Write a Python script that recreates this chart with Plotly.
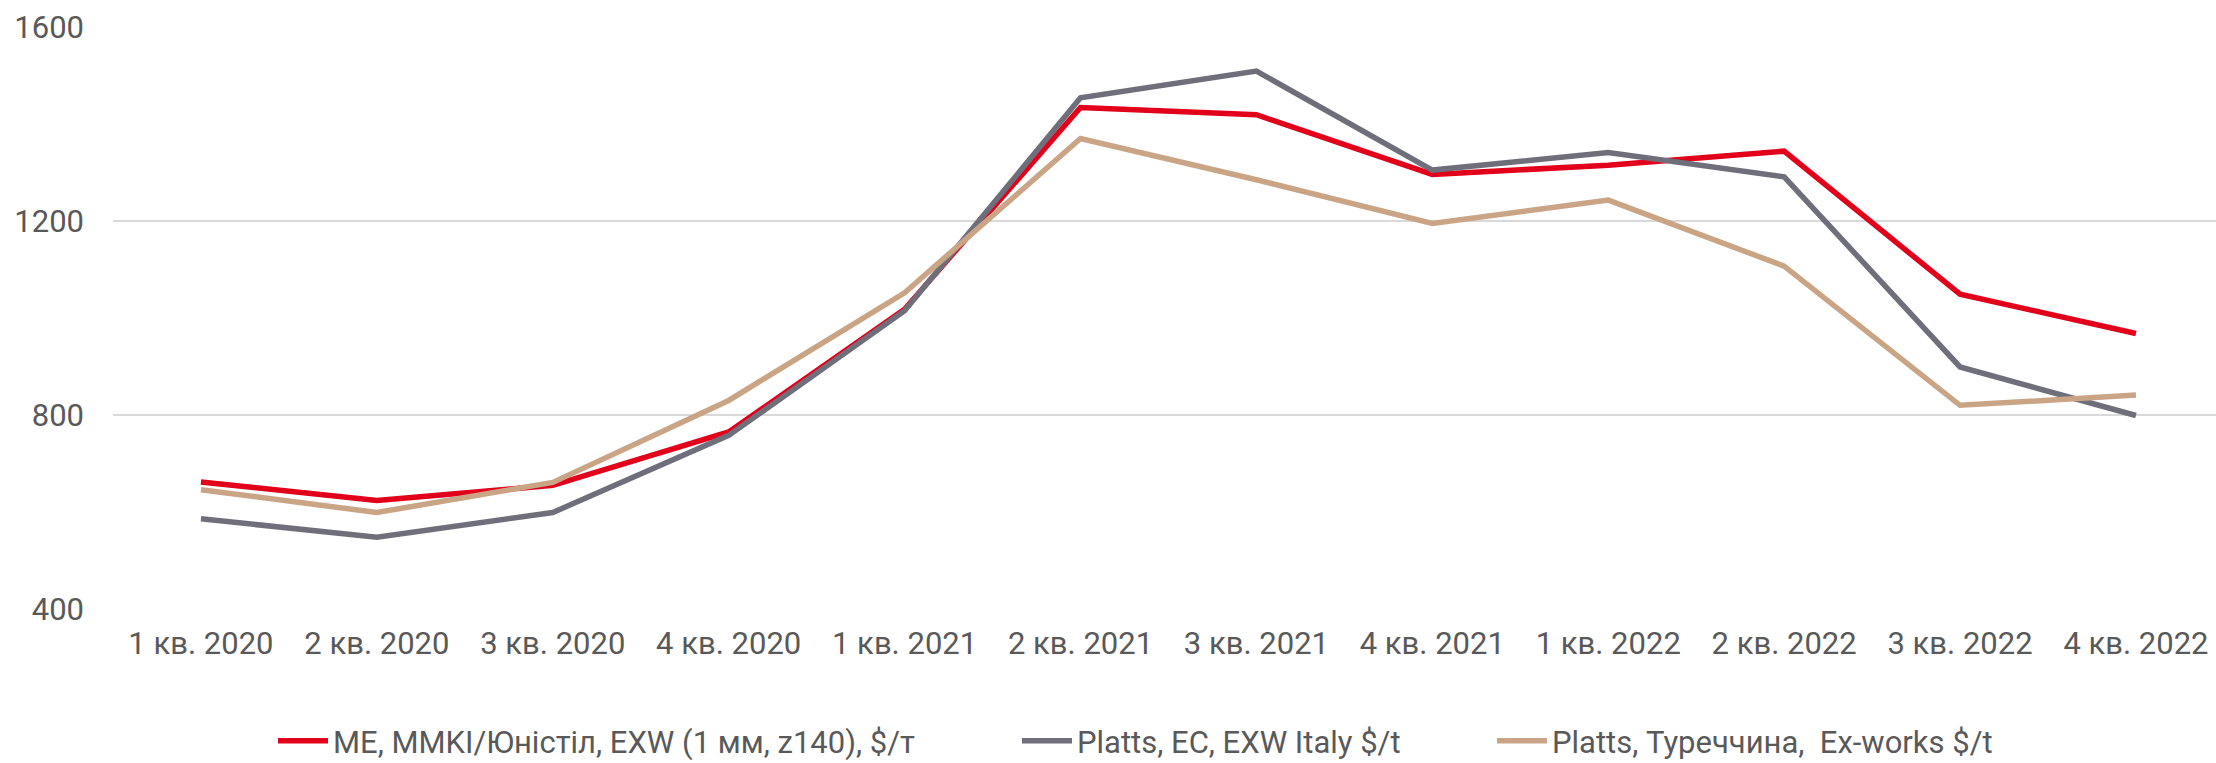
import plotly.graph_objects as go

categories = ["1 кв. 2020", "2 кв. 2020", "3 кв. 2020", "4 кв. 2020",
              "1 кв. 2021", "2 кв. 2021", "3 кв. 2021", "4 кв. 2021",
              "1 кв. 2022", "2 кв. 2022", "3 кв. 2022", "4 кв. 2022"]
me_mmki = [662, 624, 655, 765, 1018, 1434, 1419, 1296, 1315, 1344, 1049, 968]
platts_eu = [586, 548, 599, 758, 1015, 1454, 1509, 1305, 1341, 1291, 899, 799]
platts_tr = [646, 599, 661, 830, 1052, 1370, 1285, 1195, 1243, 1107, 820, 841]

names = ["ME, MMKI/Юністіл, EXW (1 мм, z140), $/т",
         "Platts, EC, EXW Italy $/t",
         "Platts, Туреччина,  Ex-works $/t"]
colors = ["#E2001A", "#6F6F7C", "#C9A586"]
y_ticks = [400, 800, 1200, 1600]

FONT = "Roboto, Arial, sans-serif"
TXT = "#595959"

fig = go.Figure()
series = [me_mmki, platts_eu, platts_tr]
legends = ["legend", "legend2", "legend3"]
for vals, nm, col, lg in zip(series, names, colors, legends):
    fig.add_trace(go.Scatter(
        x=categories, y=vals, name=nm, mode="lines",
        line=dict(color=col, width=5.5), legend=lg, showlegend=True,
    ))

LEG_Y = 1 - 741 / 763
legend_common = dict(
    orientation="h", xref="container", yref="container",
    yanchor="middle", xanchor="left",
    font=dict(family=FONT, size=31, color=TXT),
    bgcolor="rgba(0,0,0,0)", itemwidth=50, visible=True,
)

fig.update_layout(
    template="none",
    showlegend=True,
    width=2216, height=763,
    margin=dict(l=113, r=0, t=26, b=153, autoexpand=False),
    paper_bgcolor="white", plot_bgcolor="white",
    font=dict(family=FONT, size=31, color=TXT),
    legend=dict(x=273 / 2216, y=LEG_Y, **legend_common),
    legend2=dict(x=1017 / 2216, y=LEG_Y, **legend_common),
    legend3=dict(x=1492 / 2216, y=LEG_Y, **legend_common),
    xaxis=dict(
        type="category", range=[-0.5, 11.455], automargin=False,
        showgrid=False, showline=False, zeroline=False,
        ticks="", ticklabelstandoff=12,
        tickfont=dict(family=FONT, size=31, color=TXT),
    ),
    yaxis=dict(
        range=[398, 1602], tickvals=y_ticks, automargin=False,
        showgrid=True, gridcolor="#D9D9D9", gridwidth=2,
        showline=False, zeroline=False, ticks="",
        ticklabelstandoff=28,
        tickfont=dict(family=FONT, size=31, color=TXT),
    ),
)

fig.write_html(
    "out.html",
    config={"displayModeBar": False},
    post_script="document.body.style.margin='0';document.body.style.overflow='hidden';",
)
